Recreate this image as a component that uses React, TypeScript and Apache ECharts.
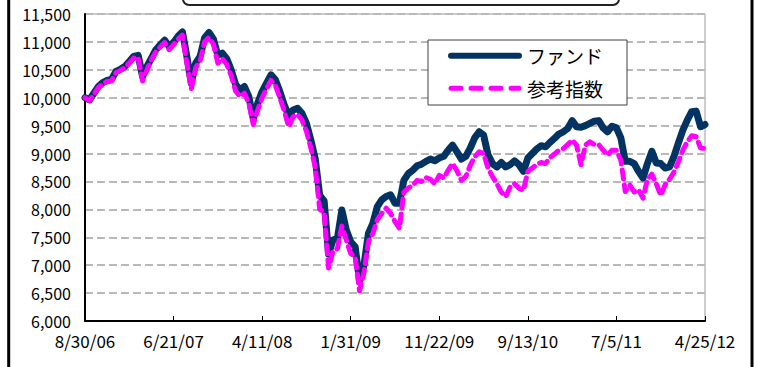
import React, { useEffect, useRef } from "react";
import * as echarts from "echarts";

const xTickLabels = ["8/30/06", "6/21/07", "4/11/08", "1/31/09", "11/22/09", "9/13/10", "7/5/11", "4/25/12"];
const pointsPerTick = 20;

const fund = [
  10000, 9960, 10080, 10200, 10270, 10310, 10330, 10470, 10510, 10560,
  10650, 10740, 10760, 10380, 10560, 10710, 10860, 10950, 11030, 10920,
  10990, 11100, 11180, 10740, 10260, 10620, 10740, 11070, 11170, 11050,
  10760, 10800, 10700, 10500, 10240, 10140, 10200, 10020, 9620, 9900,
  10110, 10260, 10410, 10320, 10110, 9870, 9680, 9780, 9810, 9720,
  9540, 9240, 8900, 8250, 8150, 7200, 7450, 7480, 7990, 7630,
  7420, 7330, 6720, 7000, 7570, 7750, 8050, 8170, 8230, 8260,
  8110, 8110, 8520, 8640, 8700, 8780, 8810, 8860, 8900, 8870,
  8920, 8950, 9060, 9150, 9030, 8900, 8950, 9100, 9280, 9390,
  9330, 8980, 8820, 8760, 8840, 8760, 8800, 8870, 8800, 8680,
  8920, 9000, 9080, 9140, 9120, 9200, 9270, 9350, 9390, 9450,
  9590, 9480, 9470, 9500, 9540, 9580, 9590, 9460, 9390, 9490,
  9460, 9280, 8860, 8860, 8820, 8680, 8560, 8820, 9040, 8830,
  8820, 8740, 8760, 8950, 9190, 9420, 9600, 9750, 9760, 9480,
  9520,
];

const benchmark = [
  10000, 9950, 10060, 10180, 10250, 10290, 10300, 10450, 10490, 10540,
  10620, 10710, 10720, 10300, 10500, 10680, 10820, 10910, 10990, 10860,
  10950, 11050, 11120, 10620, 10160, 10540, 10660, 11000, 11080, 10960,
  10620, 10700, 10600, 10400, 10120, 10020, 10080, 9900, 9520, 9780,
  10000, 10160, 10310, 10220, 10000, 9760, 9480, 9660, 9700, 9600,
  9400, 9100, 8750, 8000, 7950, 6950, 7250, 7300, 7700, 7450,
  7210, 7150, 6540, 6870, 7420, 7570, 7810, 7930, 8020, 7930,
  7780, 7660, 8310, 8380, 8430, 8520, 8500, 8570, 8540, 8460,
  8610, 8560, 8700, 8820, 8690, 8520, 8590, 8790, 8940, 9030,
  9000, 8740, 8590, 8460, 8310, 8230, 8400, 8460, 8380, 8340,
  8680, 8740, 8800, 8840, 8820, 8930, 8990, 9060, 9090, 9160,
  9240, 9150, 8800, 9150, 9210, 9160, 9160, 9060, 8970, 9060,
  9060, 8880, 8320, 8440, 8310, 8350, 8200, 8540, 8630, 8460,
  8250, 8440, 8540, 8670, 8850, 9060, 9210, 9320, 9300, 9100,
  9090,
];

const seriesNames = ["ファンド", "参考指数"];
const yMin = 6000;
const yMax = 11500;
const yStep = 500;

const FONT = "'Noto Sans CJK JP', 'Noto Sans', sans-serif";
const NAVY = "#033363";
const MAGENTA = "#FF00FF";

export default function App() {
  const ref = useRef<HTMLDivElement>(null);
  useEffect(() => {
    if (!ref.current) return;
    const chart = echarts.init(ref.current, null, { renderer: "svg" });
    const xMax = (xTickLabels.length - 1) * pointsPerTick;
    chart.setOption({
      animation: false,
      backgroundColor: "#ffffff",
      textStyle: { fontFamily: FONT },
      grid: {
        left: 85,
        top: 14,
        right: 52,
        bottom: 46,
        show: true,
        borderColor: "#9a9a9a",
        borderWidth: 1,
        backgroundColor: "transparent",
      },
      xAxis: {
        type: "value",
        min: 0,
        max: xMax,
        interval: pointsPerTick,
        axisLine: { show: true, lineStyle: { color: "#000", width: 2 } },
        axisTick: { show: true, inside: true, length: 5, lineStyle: { color: "#000", width: 1 } },
        splitLine: { show: false },
        axisLabel: {
          color: "#000",
          fontSize: 17,
          fontFamily: FONT,
          margin: 11,
          formatter: (v: number) => xTickLabels[Math.round(v / pointsPerTick)] ?? "",
        },
      },
      yAxis: {
        type: "value",
        min: yMin,
        max: yMax,
        interval: yStep,
        axisLine: { show: true, lineStyle: { color: "#000", width: 2 } },
        axisTick: { show: false },
        splitLine: { show: true, lineStyle: { color: "#b8b8b8", width: 2, type: [8, 4] } },
        axisLabel: {
          color: "#000",
          fontSize: 16,
          fontFamily: FONT,
          margin: 14,
          formatter: (v: number) => v.toLocaleString("en-US"),
        },
      },
      series: [
        {
          name: seriesNames[0],
          type: "line",
          data: fund.map((v, i) => [i, v]),
          showSymbol: false,
          symbol: "none",
          lineStyle: { color: NAVY, width: 7, cap: "round", join: "round" },
          z: 2,
        },
        {
          name: seriesNames[1],
          type: "line",
          data: benchmark.map((v, i) => [i, v]),
          showSymbol: false,
          symbol: "none",
          lineStyle: { color: MAGENTA, width: 5, type: [9, 6], cap: "round", join: "round" },
          z: 3,
        },
      ],
      graphic: [
        {
          type: "rect",
          shape: { x: 8.7, y: -20, width: 743.3, height: 420 },
          style: { fill: "none", stroke: "#000", lineWidth: 3 },
          silent: true,
          z: 100,
        },
        {
          type: "rect",
          shape: { x: 183, y: -30, width: 436, height: 35, r: 6 },
          style: { fill: "#fff", stroke: "#222", lineWidth: 2 },
          silent: true,
          z: 100,
        },
        {
          type: "group",
          z: 100,
          children: [
            {
              type: "rect",
              shape: { x: 428, y: 40, width: 199, height: 65 },
              style: { fill: "#fff", stroke: "#404040", lineWidth: 1 },
              z: 100,
            },
            {
              type: "line",
              shape: { x1: 451, y1: 55.7, x2: 519, y2: 55.7 },
              style: { stroke: NAVY, lineWidth: 6, lineCap: "round" },
              z: 101,
            },
            {
              type: "line",
              shape: { x1: 451, y1: 88.3, x2: 519, y2: 88.3 },
              style: { stroke: MAGENTA, lineWidth: 5, lineCap: "round", lineDash: [10, 10] },
              z: 101,
            },
            {
              type: "text",
              x: 527,
              y: 55.7,
              style: { text: seriesNames[0], fill: "#000", font: `19px ${FONT}`, textVerticalAlign: "middle" },
              z: 101,
            },
            {
              type: "text",
              x: 527,
              y: 88.3,
              style: { text: seriesNames[1], fill: "#000", font: `19px ${FONT}`, textVerticalAlign: "middle" },
              z: 101,
            },
          ],
        },
      ],
    });
    return () => chart.dispose();
  }, []);
  return (
    <div
      ref={ref}
      style={{ position: "absolute", left: 0, top: 0, width: 757, height: 367 }}
    />
  );
}
